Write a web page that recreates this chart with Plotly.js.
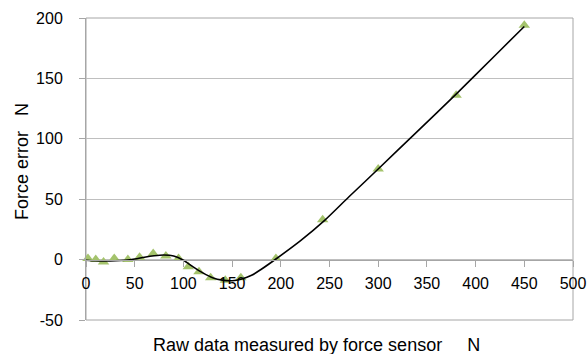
<!DOCTYPE html>
<html>
<head>
<meta charset="utf-8">
<script src="https://cdn.plot.ly/plotly-3.0.1.min.js"></script>
<style>html,body{margin:0;padding:0;background:#fff;}#chart{width:587px;height:354px;}</style>
</head>
<body>
<div id="chart"></div>
<script>
// Measured points (green triangles)
const pointX = [2, 10, 18, 29, 43, 55, 69, 82, 95, 105, 116, 128, 143, 159, 195, 243, 300, 380, 450];
const pointY = [1, 0, -2, 1, 0, 2, 5, 3, 1, -6, -10, -15, -17, -15, 1, 33, 75, 136, 194];
// Fitted trend curve (black)
const curveX = [0, 10, 20, 30, 40, 50, 60, 70, 80, 90, 100, 110, 120, 130, 140, 150, 160, 170, 180, 195, 220, 245, 270, 300, 340, 380, 420, 450];
const curveY = [-0.5, -1, -1.2, -1, -0.5, 0.5, 2, 3.2, 3.8, 3, -0.5, -6, -11, -15, -17, -17.5, -16, -13, -8, 0.5, 15.5, 32.5, 52, 75, 106, 137, 169, 193];
// Axis ticks
const xTicks = [0, 50, 100, 150, 200, 250, 300, 350, 400, 450, 500];
const yTicks = [-50, 0, 50, 100, 150, 200];
const xTitle = "Raw data measured by force sensor     N";
const yTitle = "Force error   N";

const font = "Liberation Sans, Arial, sans-serif";
const traces = [
  {x: pointX, y: pointY, mode: 'markers', type: 'scatter',
   marker: {symbol: 'triangle-up', size: 10, color: '#a4c36c', line: {width: 0}}, cliponaxis: false},
  {x: curveX, y: curveY, mode: 'lines', type: 'scatter',
   line: {color: '#000000', width: 1.6, shape: 'spline', smoothing: 0.8}}
];
const layout = {
  width: 587, height: 354,
  margin: {l: 86, r: 14, t: 18, b: 34},
  paper_bgcolor: '#ffffff', plot_bgcolor: '#ffffff',
  showlegend: false,
  font: {family: font, size: 16, color: '#000'},
  xaxis: {
    range: [0, 500], tickvals: xTicks, ticktext: xTicks.map(String),
    anchor: 'free', position: 0.2,
    showgrid: false, zeroline: false,
    showline: true, linecolor: '#a6a6a6', linewidth: 1,
    ticks: 'outside', ticklen: 6, tickcolor: '#a6a6a6',
    ticklabelstandoff: 3,
    tickfont: {family: font, size: 16, color: '#000'}
  },
  yaxis: {
    range: [-50, 200], tickvals: yTicks, ticktext: yTicks.map(String),
    showgrid: true, gridcolor: '#bfbfbf', gridwidth: 1, zeroline: false,
    showline: true, linecolor: '#a6a6a6', linewidth: 1,
    ticks: 'outside', ticklen: 6, tickcolor: '#a6a6a6',
    ticklabelstandoff: 13,
    tickfont: {family: font, size: 16, color: '#000'}
  },
  shapes: [
    {type: 'rect', xref: 'paper', yref: 'paper', x0: 0, x1: 1, y0: 0, y1: 1,
     line: {color: '#a6a6a6', width: 1}, fillcolor: 'rgba(0,0,0,0)', layer: 'below'}
  ],
  annotations: [
    {text: xTitle, xref: 'paper', yref: 'paper', x: 0.5, xshift: -13, y: 0, yshift: -25,
     xanchor: 'center', yanchor: 'middle',
     showarrow: false, font: {family: font, size: 18, color: '#000'}},
    {text: yTitle, xref: 'paper', yref: 'paper', x: 0, xshift: -64, y: 0.5, yshift: 7, textangle: -90,
     xanchor: 'center', yanchor: 'middle',
     showarrow: false, font: {family: font, size: 18, color: '#000'}}
  ]
};
Plotly.newPlot('chart', traces, layout, {displayModeBar: false, staticPlot: true});
</script>
</body>
</html>
